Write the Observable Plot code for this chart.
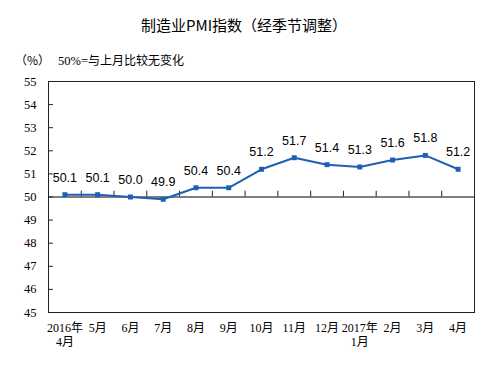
<!DOCTYPE html>
<html>
<head>
<meta charset="utf-8">
<script src="https://cdn.jsdelivr.net/npm/d3@7"></script>
<script src="https://cdn.jsdelivr.net/npm/@observablehq/plot@0.6"></script>
<style>
  html, body { margin: 0; padding: 0; background: #fff; }
  #wrap { position: relative; width: 504px; height: 366px; overflow: hidden; }
  #chart { position: absolute; left: 0; top: 0; }
  .t { position: absolute; white-space: nowrap; color: #000; font-family: "Noto Sans CJK SC", sans-serif; }
  #title { left: 141px; top: 14px; font-size: 15px; line-height: 22px; font-weight: normal; }
  #unit { left: 15px; top: 51px; font-size: 12px; line-height: 18px; }
  #note { left: 58px; top: 51px; font-size: 12px; line-height: 18px; }
  #note .d { font-family: "Liberation Serif", serif; font-size: 12.5px; }
</style>
</head>
<body>
<div id="wrap">
  <div id="chart"></div>
  <div class="t" id="title">制造业PMI指数（经季节调整）</div>
  <div class="t" id="unit">（%）</div>
  <div class="t" id="note"><span class="d">50%=</span>与上月比较无变化</div>
</div>
<script>
const months = ["2016年\n4月", "5月", "6月", "7月", "8月", "9月", "10月", "11月", "12月", "2017年\n1月", "2月", "3月", "4月"];
const pmi = [50.1, 50.1, 50.0, 49.9, 50.4, 50.4, 51.2, 51.7, 51.4, 51.3, 51.6, 51.8, 51.2];
const yTicks = [45, 46, 47, 48, 49, 50, 51, 52, 53, 54, 55];

const data = months.map((m, i) => ({i: i + 0.5, month: m, value: pmi[i]}));
const bounds = d3.range(1, months.length);
const blue = "#1f5fb4";

const chart = Plot.plot({
  width: 504,
  height: 366,
  marginLeft: 48,
  marginRight: 30,
  marginTop: 81,
  marginBottom: 54,
  style: {background: "transparent", color: "#000"},
  x: {type: "linear", domain: [0, months.length], axis: null},
  y: {domain: [45, 55], axis: null},
  marks: [
    Plot.frame({stroke: "#222", strokeWidth: 1}),
    Plot.ruleY([50], {stroke: "#000", strokeWidth: 1}),
    Plot.ruleY(yTicks, {x1: 0, x2: 0.15, stroke: "#222"}),
    Plot.ruleX(bounds, {y1: 50, y2: 50.25, stroke: "#222"}),
    Plot.text(yTicks, {
      x: 0, y: d => d, text: d => String(d), textAnchor: "end", dx: -12,
      fontFamily: "'Liberation Serif', serif", fontSize: 12.5, fill: "#000"
    }),
    Plot.text(data, {
      x: "i", y: 45, text: "month", lineAnchor: "top", dy: 10, lineHeight: 1.15,
      fontFamily: "'Liberation Serif', 'Noto Sans CJK SC', serif", fontSize: 12, fill: "#000"
    }),
    Plot.line(data, {x: "i", y: "value", stroke: blue, strokeWidth: 2}),
    Plot.dot(data, {x: "i", y: "value", symbol: "square", r: 2.8, fill: blue, stroke: "none"}),
    Plot.text(data, {
      x: "i", y: "value", text: d => d.value.toFixed(1), dy: -17,
      fontFamily: "'Liberation Sans', Arial, sans-serif", fontSize: 12.5, fill: "#000"
    })
  ]
});
document.getElementById("chart").appendChild(chart);
</script>
</body>
</html>
